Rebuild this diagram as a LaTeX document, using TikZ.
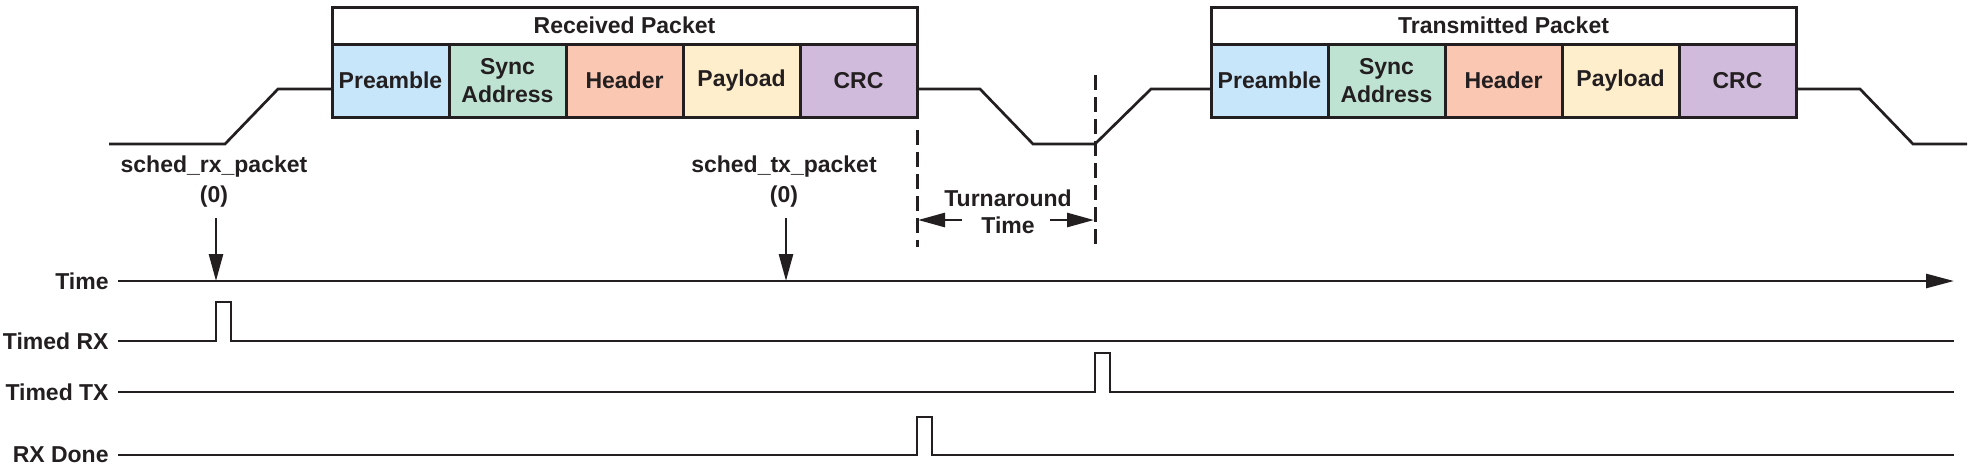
\documentclass[tikz,border=0pt]{standalone}
\usepackage{fontspec}
\setmainfont{Liberation Sans}
\usetikzlibrary{arrows.meta}
\definecolor{ink}{HTML}{231F20}
\definecolor{cPre}{HTML}{C8E6F9}
\definecolor{cSync}{HTML}{BEE3D3}
\definecolor{cHdr}{HTML}{F9C7B2}
\definecolor{cPay}{HTML}{FFEECC}
\definecolor{cCrc}{HTML}{D1BBDD}
\tikzset{
 lbl/.style={font=\bfseries\fontsize{11.5}{14}\selectfont, text=ink, inner sep=0pt, align=center},
 lbltwo/.style={font=\bfseries\fontsize{11.5}{15}\selectfont, text=ink, inner sep=0pt, align=center},
 cell/.style={lbl, draw=ink, line width=1.5pt, minimum width=58.5pt, minimum height=36.5pt, outer sep=0pt, anchor=north west},
 titlebox/.style={lbl, draw=ink, line width=1.5pt, minimum width=292.5pt, minimum height=18.5pt, outer sep=0pt, anchor=north west},
 wave/.style={draw=ink, line width=1.35pt, line join=miter},
 tipbig/.style={-{Triangle[length=13.5pt,width=7pt]}},
 dashline/.style={draw=ink, line width=1.5pt, dash pattern=on 7.5pt off 3.5pt}
}
\begin{document}
\begin{tikzpicture}[x=0.5pt,y=-0.5pt]
\useasboundingbox (0,0) rectangle (1974,468);
% Received packet
\node[titlebox] (rtitle) at (332,7) {Received Packet};
\node[cell, fill=cPre]  (rpre)  at (332,44) {Preamble};
\node[cell, fill=cSync] (rsync) at (449,44) {Sync\\Address};
\node[cell, fill=cHdr]  (rhdr)  at (566,44) {Header};
\node[cell, fill=cPay]  (rpay)  at (683,44) {Payload};
\node[cell, fill=cCrc]  (rcrc)  at (800,44) {CRC};
% Transmitted packet
\node[titlebox] (ttitle) at (1211,7) {Transmitted Packet};
\node[cell, fill=cPre]  (tpre)  at (1211,44) {Preamble};
\node[cell, fill=cSync] (tsync) at (1328,44) {Sync\\Address};
\node[cell, fill=cHdr]  (thdr)  at (1445,44) {Header};
\node[cell, fill=cPay]  (tpay)  at (1562,44) {Payload};
\node[cell, fill=cCrc]  (tcrc)  at (1679,44) {CRC};
% Envelope
\draw[wave] (109,144) -- (225,144) -- (278,89) -- (rpre.west |- 0,89);
\draw[wave] (rcrc.east |- 0,89) -- (980,89) -- (1033,144) -- (1095,144) -- (1151,89) -- (tpre.west |- 0,89);
\draw[wave] (tcrc.east |- 0,89) -- (1860,89) -- (1913,144) -- (1967,144);
% Turnaround
\draw[dashline] (917,130) -- (917,247);
\draw[dashline] (1095,75) -- (1095,247);
\node[lbl, font=\bfseries\fontsize{11.5}{13.5}\selectfont] (ta) at (1008,212) {Turnaround\\Time};
\coordinate (taL) at (962,220);
\coordinate (taR) at (1050,220);
\coordinate (taLe) at (918,220);
\coordinate (taRe) at (1094,220);
\draw[wave, tipbig] (taL) -- (taLe);
\draw[wave, tipbig] (taR) -- (taRe);
% Schedule labels
\node[lbltwo] (srx) at (214,182) {sched\_rx\_packet\\(0)};
\node[lbltwo] (stx) at (784,182) {sched\_tx\_packet\\(0)};
\coordinate (srxA) at (216,218);
\coordinate (srxB) at (216,281);
\coordinate (stxA) at (786,218);
\coordinate (stxB) at (786,281);
\draw[wave, tipbig] (srxA) -- (srxB);
\draw[wave, tipbig] (stxA) -- (stxB);
% Timelines
\node[lbl, anchor=east] (ltime) at (109,281) {Time};
\node[lbl, anchor=east] (lrx) at (109,341) {Timed RX};
\node[lbl, anchor=east] (ltx) at (109,392) {Timed TX};
\node[lbl, anchor=east] (ldone) at (109,455) {RX Done};
\coordinate (tEnd) at (1954,281);
\draw[wave, -{Triangle[length=14pt,width=7pt]}] ([xshift=4.5pt]ltime.east) -- (tEnd);
\draw[wave] ([xshift=4.5pt]lrx.east) -- (216,341) -- (216,302) -- (231,302) -- (231,341) -- (1954,341);
\draw[wave] ([xshift=4.5pt]ltx.east) -- (1095,392) -- (1095,353) -- (1110,353) -- (1110,392) -- (1954,392);
\draw[wave] ([xshift=4.5pt]ldone.east) -- (917,455) -- (917,417) -- (932,417) -- (932,455) -- (1954,455);
\end{tikzpicture}
\end{document}
